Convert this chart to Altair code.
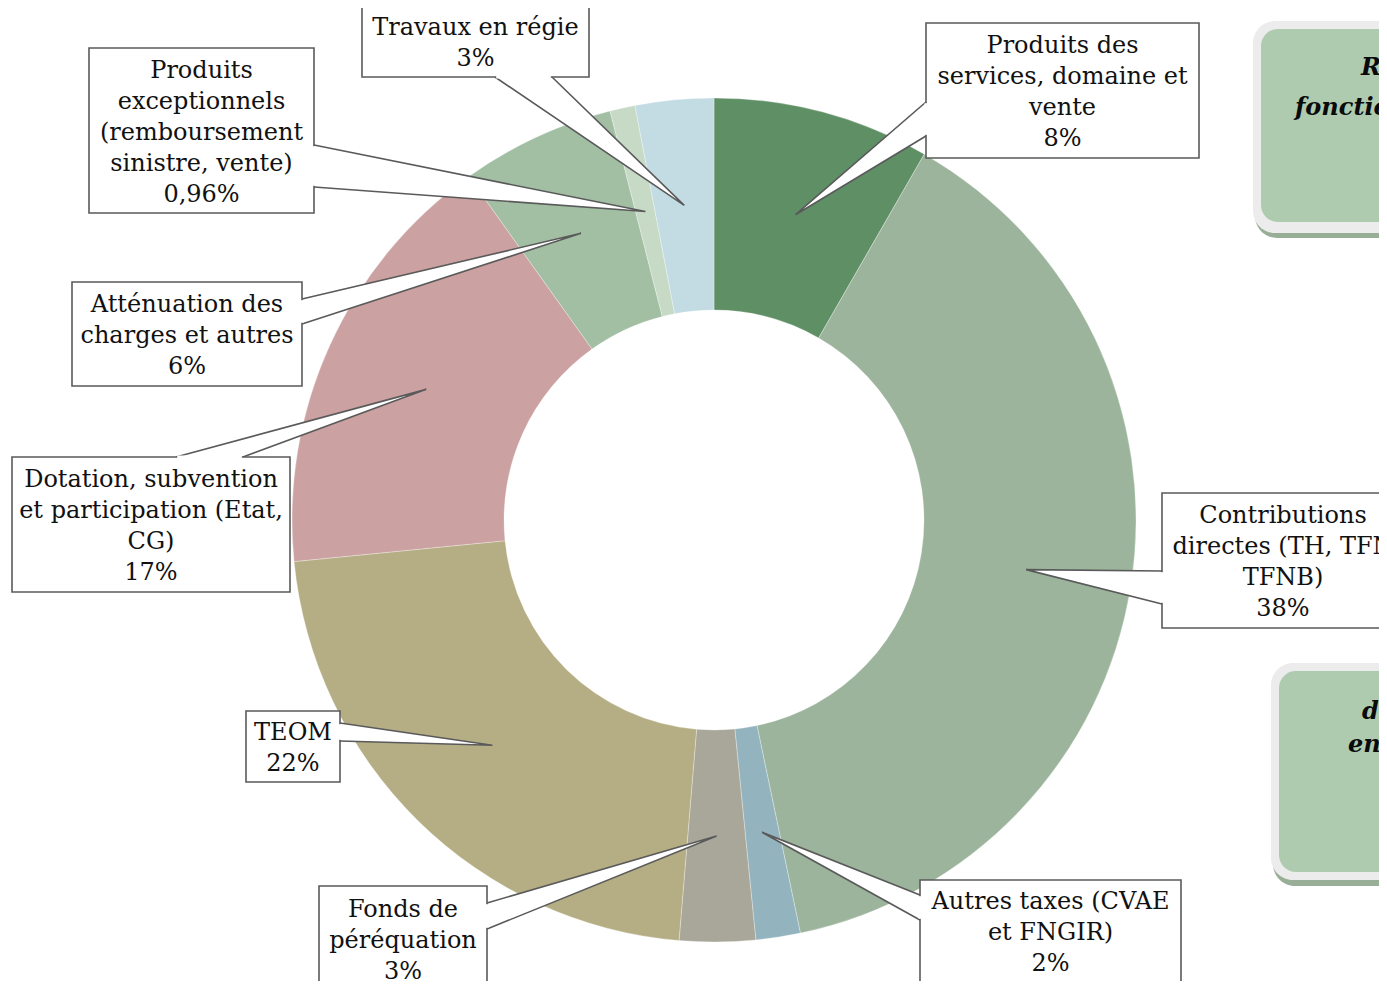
import math
import altair as alt
import pandas as pd

# ---------------- data ----------------
categories = [
    "Produits des services, domaine et vente",
    "Contributions directes",
    "Autres taxes (CVAE et FNGIR)",
    "Fonds de péréquation",
    "TEOM",
    "Dotation, subvention et participation (Etat, CG)",
    "Atténuation des charges et autres",
    "Produits exceptionnels (remboursement sinistre, vente)",
    "Travaux en régie",
]
values = [8.3, 38.4, 1.7, 2.9, 22.1, 16.7, 5.9, 0.96, 3.0]
pct_labels = ["8%", "38%", "2%", "3%", "22%", "17%", "6%", "0,96%", "3%"]
label_lines = [
    ["Produits des", "services, domaine et", "vente"],
    ["Contributions", "directes (TH, TFN", "TFNB)"],
    ["Autres taxes (CVAE", "et FNGIR)"],
    ["Fonds de", "péréquation"],
    ["TEOM"],
    ["Dotation, subvention", "et participation (Etat,", "CG)"],
    ["Atténuation des", "charges et autres"],
    ["Produits", "exceptionnels", "(remboursement", "sinistre, vente)"],
    ["Travaux en régie"],
]
colors = ["#5f8f65", "#9bb49b", "#93b4bf", "#a8a799", "#b5ae84",
          "#cba1a1", "#a2bfa4", "#c7dac6", "#c3dce3"]

side_titles_a = ["R", "fonctionnement"]
side_titles_b = ["d", "en"]

# ---------------- layout (page pixels) ----------------
W, H = 1371, 973
OX, OY = 8, 8
CX, CY = 714, 520
R_OUT, R_IN = 422, 210
R_TIP = (R_OUT + R_IN) / 2
LH = 31

boxes = [
    (926, 23, 1199, 158),
    (1162, 493, 1404, 628),
    (920, 880, 1181, 982),
    (319, 886, 487, 992),
    (246, 711, 340, 782),
    (12, 457, 290, 592),
    (72, 282, 302, 386),
    (89, 48, 314, 213),
    (362, 5, 589, 77),
]
bases = [
    ((926, 102), (926, 136)),
    ((1162, 571), (1162, 604)),
    ((920, 895), (920, 920)),
    ((487, 903), (487, 929)),
    ((340, 723), (340, 741)),
    ((176, 457), (243, 457)),
    ((302, 299), (302, 324)),
    ((314, 145), (314, 187)),
    ((495, 77), (552, 77)),
]

# ---------------- derived tables ----------------
total = sum(values)
arc_df = pd.DataFrame({"cat": categories, "value": values, "ord": list(range(len(values)))})

tips = []
cum = 0.0
for v in values:
    mid = (cum + v / 2) / total * 2 * math.pi
    tips.append((CX + R_TIP * math.sin(mid), CY - R_TIP * math.cos(mid)))
    cum += v

wedge_rows, box_rows, gap_rows, text_rows = [], [], [], []
for i, cat in enumerate(categories):
    (b1, b2), tip, bx = bases[i], tips[i], boxes[i]
    wedge_rows += [
        {"cat": cat, "k": 0, "x": b1[0], "y": b1[1]},
        {"cat": cat, "k": 1, "x": tip[0], "y": tip[1]},
        {"cat": cat, "k": 2, "x": b2[0], "y": b2[1]},
    ]
    box_rows.append({"cat": cat, "x": bx[0], "x2": bx[2], "y": bx[1], "y2": bx[3]})
    dx, dy = b2[0] - b1[0], b2[1] - b1[1]
    ln = math.hypot(dx, dy)
    ux, uy = dx / ln, dy / ln
    gap_rows.append({"cat": cat,
                     "x": b1[0] + 1.2 * ux, "y": b1[1] + 1.2 * uy,
                     "x2": b2[0] - 1.2 * ux, "y2": b2[1] - 1.2 * uy})
    lines = label_lines[i] + [pct_labels[i]]
    n = len(lines)
    text_rows.append({"cat": cat,
                      "x": (bx[0] + bx[2]) / 2,
                      "y": (bx[1] + bx[3]) / 2 - (n - 1) * LH / 2 + 2,
                      "t": "\n".join(lines)})

wedge_df = pd.DataFrame(wedge_rows)
box_df = pd.DataFrame(box_rows)
gap_df = pd.DataFrame(gap_rows)
text_df = pd.DataFrame(text_rows)

side_outer = pd.DataFrame([
    {"x": 1255, "x2": 1420, "y": 27, "y2": 238, "c": "#98ae97"},
    {"x": 1253, "x2": 1420, "y": 21, "y2": 233, "c": "#ececec"},
    {"x": 1273, "x2": 1420, "y": 669, "y2": 886, "c": "#98ae97"},
    {"x": 1271, "x2": 1420, "y": 663, "y2": 880, "c": "#ececec"},
])
side_inner = pd.DataFrame([
    {"x": 1261, "x2": 1420, "y": 29, "y2": 222, "c": "#aecbaf"},
    {"x": 1279, "x2": 1420, "y": 671, "y2": 872, "c": "#aecbaf"},
])
side_text = pd.DataFrame([
    {"x": 1361, "y": 68, "t": side_titles_a[0]},
    {"x": 1295, "y": 108, "t": side_titles_a[1]},
    {"x": 1362, "y": 712, "t": side_titles_b[0]},
    {"x": 1348, "y": 745, "t": side_titles_b[1]},
])

# ---------------- scales ----------------
xs = alt.Scale(domain=[OX, OX + W], nice=False, zero=False)
ys = alt.Scale(domain=[OY, OY + H], nice=False, zero=False, reverse=True)


def X(f):
    return alt.X(f, type="quantitative", scale=xs, axis=None)


def Y(f):
    return alt.Y(f, type="quantitative", scale=ys, axis=None)


FONT = "DejaVu Serif"

donut = alt.Chart(arc_df).mark_arc(
    outerRadius=R_OUT, innerRadius=R_IN, stroke="#ffffff", strokeWidth=0.6, strokeOpacity=0.5
).encode(
    theta=alt.Theta("value:Q", stack=True),
    order=alt.Order("ord:Q"),
    color=alt.Color("cat:N", scale=alt.Scale(domain=categories, range=colors), legend=None),
    x=alt.value(CX - OX),
    y=alt.value(CY - OY),
)

sb_outer = alt.Chart(side_outer).mark_rect(clip=True, cornerRadius=22).encode(
    x=X("x"), x2="x2", y=Y("y"), y2="y2",
    color=alt.Color("c:N", scale=None),
)
sb_inner = alt.Chart(side_inner).mark_rect(clip=True, cornerRadius=17).encode(
    x=X("x"), x2="x2", y=Y("y"), y2="y2",
    color=alt.Color("c:N", scale=None),
)

st = alt.Chart(side_text).mark_text(
    clip=True, font=FONT, fontSize=24, fontWeight="bold", fontStyle="italic",
    align="left", baseline="middle", color="#0a0a0a"
).encode(x=X("x"), y=Y("y"), text="t:N")

wedges = alt.Chart(wedge_df).mark_line(
    fill="#ffffff", stroke="#5a5a5a", strokeWidth=1.6, clip=True
).encode(x=X("x"), y=Y("y"), detail="cat:N", order="k:Q")

rects = alt.Chart(box_df).mark_rect(
    fill="#ffffff", stroke="#5a5a5a", strokeWidth=1.6, clip=True
).encode(x=X("x"), x2="x2", y=Y("y"), y2="y2")

gaps = alt.Chart(gap_df).mark_rule(stroke="#ffffff", strokeWidth=3, clip=True).encode(
    x=X("x"), x2="x2", y=Y("y"), y2="y2"
)

texts = alt.Chart(text_df).mark_text(
    font=FONT, fontSize=24, lineHeight=LH, lineBreak="\n",
    align="center", baseline="middle", color="#111111", clip=True
).encode(x=X("x"), y=Y("y"), text="t:N")

chart = alt.layer(donut, sb_outer, sb_inner, st, wedges, rects, gaps, texts).properties(
    width=W, height=H, padding=0, background="#ffffff",
    autosize=alt.AutoSizeParams(type="none"),
).configure_view(stroke=None)

chart.save("out.html", embed_options={"renderer": "svg", "actions": False})
